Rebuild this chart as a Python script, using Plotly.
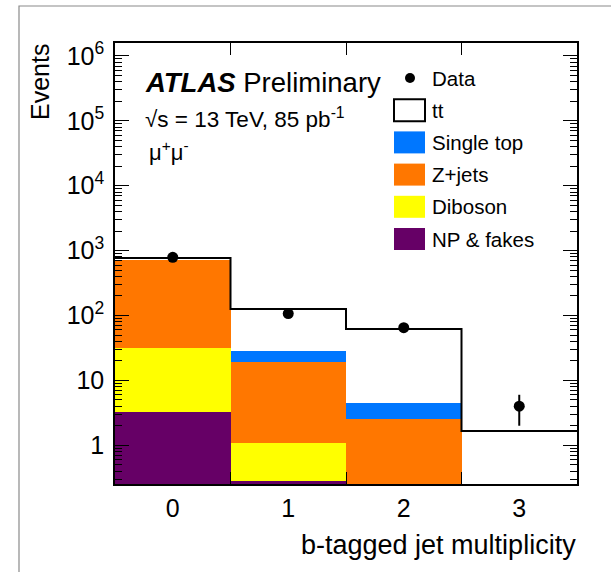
import numpy as np
import plotly.graph_objects as go

# ---------------- data ----------------
bins = [0, 1, 2, 3]
bin_labels = ["0", "1", "2", "3"]
data_counts = [790, 107, 65, 4]
np_fakes = [3.3, 0.28, 0.10, 0.0]
diboson = [28.7, 0.80, 0.10, 0.05]
zjets = [700.0, 18.0, 2.37, 0.10]
single_top = [5.0, 9.7, 1.93, 0.05]
ttbar = [32.0, 97.0, 57.5, 1.46]

stack_names = ["NP & fakes", "Diboson", "Z+jets", "Single top", "tt"]
stack_colors = ["#660066", "#ffff00", "#ff7700", "#0077ff", "#ffffff"]
stack_values = [np_fakes, diboson, zjets, single_top, ttbar]

ytick_vals = [1, 10, 100, 1e3, 1e4, 1e5, 1e6]
ytick_text = ["1", "10", "10<sup>2</sup>", "10<sup>3</sup>", "10<sup>4</sup>",
              "10<sup>5</sup>", "10<sup>6</sup>"]

FONT = "Liberation Sans, Arial, Helvetica, sans-serif"

# ---------------- geometry helpers (page pixels -> paper) ----------------
W, H = 611, 572
L, R, T, B = 115, 34, 43, 88
PW, PH = W - L - R, H - T - B


def xp(px):
    return (px - L) / PW


def yp(py):
    return (H - B - py) / PH


fig = go.Figure()

for name, col, vals in zip(stack_names, stack_colors, stack_values):
    fig.add_trace(go.Bar(x=bins, y=vals, width=1.0, name=name,
                         marker=dict(color=col, line=dict(width=0)),
                         showlegend=False))

# total outline (step) of the stack
totals = np.sum(np.array(stack_values), axis=0)
edges = [b - 0.5 for b in bins] + [bins[-1] + 0.5]
fig.add_trace(go.Scatter(x=edges, y=list(totals) + [totals[-1]], mode="lines",
                         line=dict(color="black", width=2, shape="hv"),
                         showlegend=False, hoverinfo="skip"))

# data points
fig.add_trace(go.Scatter(x=bins, y=data_counts, mode="markers", name="Data",
                         marker=dict(color="black", size=11),
                         error_y=dict(type="data", array=np.sqrt(data_counts),
                                      color="black", thickness=2, width=0),
                         showlegend=False))

minor_vals = [m * 10.0 ** k for k in range(-1, 7) for m in range(2, 10)]

fig.update_layout(
    width=W, height=H,
    margin=dict(l=L, r=R, t=T, b=B),
    paper_bgcolor="white", plot_bgcolor="white",
    barmode="stack", bargap=0,
    font=dict(family=FONT, color="black"),
    xaxis=dict(range=[-0.5, 3.5], tickmode="array", tickvals=bins,
               ticktext=bin_labels, ticks="", showgrid=False, zeroline=False,
               showline=True, linecolor="black", linewidth=1.5, mirror="ticks",
               tickfont=dict(size=25, family=FONT), ticklabelstandoff=1,
               minor=dict(tickmode="array", tickvals=[b + 0.5 for b in bins[:-1]],
                          ticks="inside", ticklen=12, tickcolor="black",
                          tickwidth=1, showgrid=False)),
    yaxis=dict(type="log", range=[np.log10(0.253), np.log10(1.585e6)],
               tickmode="array", tickvals=ytick_vals, ticktext=ytick_text,
               ticks="inside", ticklen=14, tickwidth=1, tickcolor="black",
               showgrid=False, zeroline=False, showline=True, linecolor="black",
               linewidth=1.5, mirror="ticks", ticklabelstandoff=4,
               tickfont=dict(size=25, family=FONT),
               minor=dict(tickmode="array", tickvals=minor_vals, ticks="inside",
                          ticklen=7, tickcolor="black", tickwidth=1,
                          showgrid=False)),
)

shapes = []
annotations = []

# outer canvas frame
shapes.append(dict(type="rect", xref="paper", yref="paper",
                   x0=xp(19), x1=xp(W + 40), y0=yp(6), y1=yp(H + 40),
                   line=dict(color="#8a8a8a", width=1.2), fillcolor="rgba(0,0,0,0)"))

# axis titles
annotations.append(dict(text="Events", xref="paper", yref="paper",
                        x=xp(40), y=yp(42), xanchor="center", yanchor="top",
                        textangle=-90, showarrow=False,
                        font=dict(size=25, family=FONT)))
annotations.append(dict(text="b-tagged jet multiplicity", xref="paper", yref="paper",
                        x=xp(578), y=yp(545), xanchor="right", yanchor="middle",
                        showarrow=False, font=dict(size=27, family=FONT)))

# labels
annotations.append(dict(text="<b><i>ATLAS</i></b> Preliminary", xref="paper",
                        yref="paper", x=xp(143), y=yp(82), xanchor="left",
                        yanchor="middle", showarrow=False,
                        font=dict(size=27.5, family=FONT)))
annotations.append(dict(text="√s = 13 TeV, 85 pb<sup>-1</sup>", xref="paper",
                        yref="paper", x=xp(143), y=yp(118), xanchor="left",
                        yanchor="middle", showarrow=False,
                        font=dict(size=22.5, family=FONT)))
annotations.append(dict(text="μ<sup>+</sup>μ<sup>-</sup>", xref="paper",
                        yref="paper", x=xp(147), y=yp(151), xanchor="left",
                        yanchor="middle", showarrow=False,
                        font=dict(size=22, family=FONT)))

# manual legend
leg_names = ["Data"] + stack_names[::-1]
leg_colors = ["black"] + stack_colors[::-1]
row_y = [78 + 32.2 * i for i in range(len(leg_names))]
for i, (nm, col) in enumerate(zip(leg_names, leg_colors)):
    cy = row_y[i]
    if nm == "Data":
        shapes.append(dict(type="circle", xref="paper", yref="paper",
                           xsizemode="pixel", ysizemode="pixel",
                           xanchor=xp(410), yanchor=yp(cy),
                           x0=-5, x1=5, y0=-5, y1=5,
                           fillcolor="black", line=dict(color="black", width=0)))
    else:
        border = "black" if nm == "tt" else col
        shapes.append(dict(type="rect", xref="paper", yref="paper",
                           x0=xp(394), x1=xp(425), y0=yp(cy - 11), y1=yp(cy + 11),
                           fillcolor=col,
                           line=dict(color=border, width=2 if nm == "tt" else 0)))
    annotations.append(dict(text=nm, xref="paper", yref="paper", x=xp(430),
                            y=yp(cy), xanchor="left", yanchor="middle",
                            showarrow=False, font=dict(size=20.5, family=FONT)))

fig.update_layout(shapes=shapes, annotations=annotations)

fig.write_html("out.html")
